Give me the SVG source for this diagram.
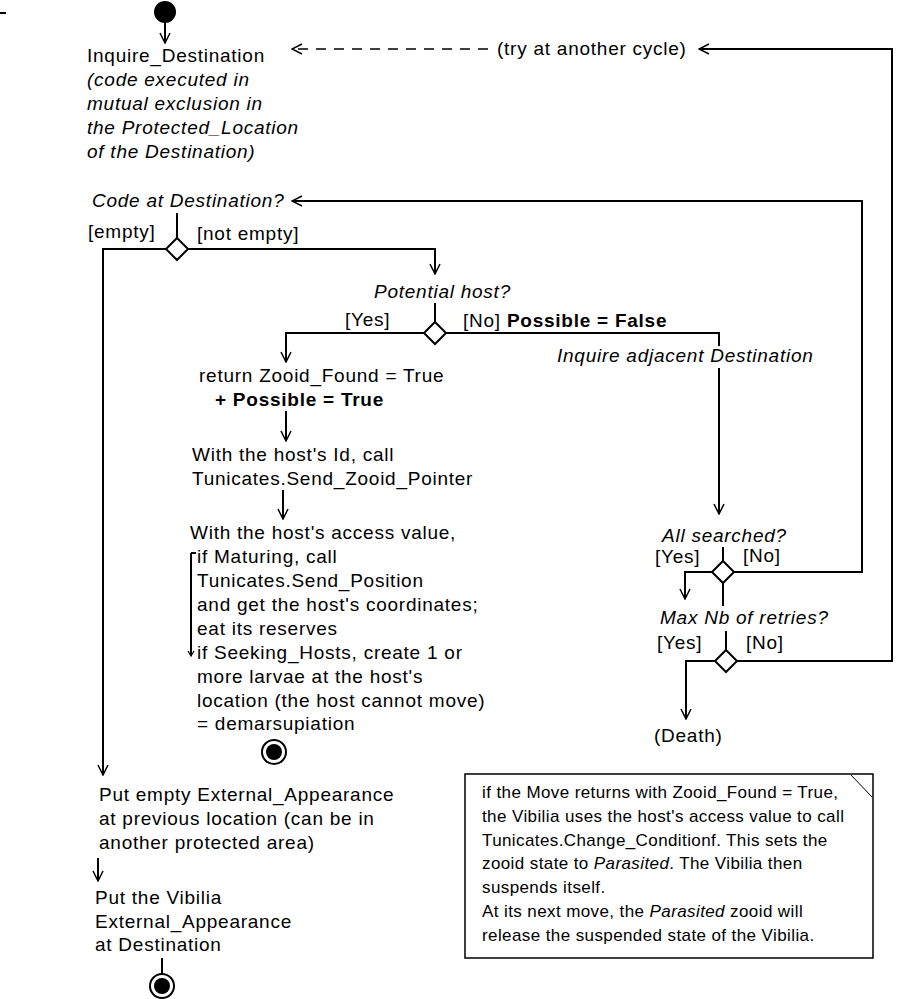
<svg xmlns="http://www.w3.org/2000/svg" width="900" height="999" viewBox="0 0 900 999">
<defs>
<marker id="arr" viewBox="-11 -6 12 12" markerWidth="12" markerHeight="12" refX="0" refY="0" orient="auto" markerUnits="userSpaceOnUse">
<path d="M-10,-5 L0,0 L-10,5" fill="none" stroke="#000" stroke-width="1.5"/>
</marker>
</defs>
<style>
text{font-family:"Liberation Sans",Arial,sans-serif;font-size:19px;letter-spacing:0.75px;fill:#000}
.i{font-style:italic}
.b{font-weight:bold}
.n{font-size:17px;letter-spacing:0.4px}
.ln{fill:none;stroke:#000;stroke-width:2}
.ar{fill:none;stroke:#000;stroke-width:2;marker-end:url(#arr)}
.dash{fill:none;stroke:#000;stroke-width:1.5;stroke-dasharray:10,8;marker-end:url(#arr)}
.dia{fill:#fff;stroke:#000;stroke-width:2}
</style>
<rect width="900" height="999" fill="#fff"/>
<line x1="0" y1="13" x2="6" y2="13" stroke="#000" stroke-width="2"/>

<g id="connectors">
<line class="ar" x1="165" y1="22" x2="165" y2="43"/>
<line class="dash" x1="488" y1="49" x2="292" y2="49"/>
<polyline class="ar" points="737,661 892,661 892,49 699,49"/>
<polyline class="ar" points="734,572 862,572 862,201 292,201"/>
<line class="ln" x1="177" y1="213" x2="177" y2="238"/>
<polyline class="ar" points="166,249 103,249 103,775"/>
<polyline class="ar" points="188,249 435,249 435,274"/>
<line class="ln" x1="435" y1="303" x2="435" y2="322"/>
<polyline class="ar" points="424,333 286,333 286,362"/>
<polyline class="ln" points="446,333 719,333 719,346"/>
<line class="ar" x1="719" y1="368" x2="719" y2="514"/>
<line class="ar" x1="286" y1="411" x2="286" y2="441"/>
<line class="ar" x1="283" y1="490" x2="283" y2="519"/>
<line class="ln" x1="723" y1="547" x2="723" y2="561"/>
<polyline class="ar" points="712,572 685,572 685,599"/>
<line class="ln" x1="723" y1="583" x2="723" y2="606"/>
<line class="ln" x1="726" y1="631" x2="726" y2="650"/>
<polyline class="ar" points="715,661 686,661 686,719"/>
<line class="ar" x1="98" y1="858" x2="98" y2="881"/>
<line class="ln" x1="162" y1="958" x2="162" y2="974"/>
<line class="ln" x1="191" y1="553" x2="191" y2="655" stroke-width="1.5"/>
<line class="ln" x1="191" y1="553" x2="196" y2="553" stroke-width="1.5"/>
<path d="M188,651 L191,656 L194,651" fill="none" stroke="#000" stroke-width="1.2"/>
</g>

<g id="start"><circle cx="165" cy="12" r="11" fill="#000"/></g>

<g id="inquire">
<text x="87" y="62">Inquire_Destination</text>
<text x="87" y="86" class="i">(code executed in</text>
<text x="87" y="110" class="i">mutual exclusion in</text>
<text x="87" y="134" class="i">the Protected_Location</text>
<text x="87" y="158" class="i">of the Destination)</text>
</g>

<g id="retry"><text x="497" y="55">(try at another cycle)</text></g>

<g id="dec-code">
<text x="92" y="207" class="i">Code at Destination?</text>
<polygon class="dia" points="177,238 188,249 177,260 166,249"/>
<text x="88" y="238">[empty]</text>
<text x="197" y="240">[not empty]</text>
</g>

<g id="dec-host">
<text x="374" y="298" class="i">Potential host?</text>
<polygon class="dia" points="435,322 446,333 435,344 424,333"/>
<text x="345" y="326">[Yes]</text>
<text x="463" y="327">[No] <tspan class="b">Possible = False</tspan></text>
</g>

<g id="adjacent"><text x="557" y="362" class="i">Inquire adjacent Destination</text></g>

<g id="return">
<text x="199" y="382">return Zooid_Found = True</text>
<text x="215" y="406" class="b">+  Possible = True</text>
</g>

<g id="send-pointer">
<text x="192" y="461">With the host's Id, call</text>
<text x="192" y="485">Tunicates.Send_Zooid_Pointer</text>
</g>

<g id="access">
<text x="190" y="539">With the host's access value,</text>
<text x="197" y="563">if Maturing, call</text>
<text x="197" y="587">Tunicates.Send_Position</text>
<text x="197" y="611">and get the host's coordinates;</text>
<text x="197" y="635">eat its reserves</text>
<text x="197" y="659">if Seeking_Hosts, create 1 or</text>
<text x="197" y="683">more larvae at the host's</text>
<text x="197" y="707">location (the host cannot move)</text>
<text x="197" y="730">= demarsupiation</text>
</g>

<g id="end1"><circle cx="274" cy="752" r="12" fill="#fff" stroke="#000" stroke-width="2"/><circle cx="274" cy="752" r="8" fill="#000"/></g>

<g id="dec-all">
<text x="662" y="542" class="i">All searched?</text>
<polygon class="dia" points="723,561 734,572 723,583 712,572"/>
<text x="655" y="563">[Yes]</text>
<text x="743" y="562">[No]</text>
</g>

<g id="dec-max">
<text x="660" y="624" class="i">Max Nb of retries?</text>
<polygon class="dia" points="726,650 737,661 726,672 715,661"/>
<text x="657" y="649">[Yes]</text>
<text x="746" y="649">[No]</text>
</g>

<g id="death"><text x="654" y="742">(Death)</text></g>

<g id="put-empty">
<text x="99" y="801">Put empty External_Appearance</text>
<text x="99" y="825">at previous location (can be in</text>
<text x="99" y="849">another protected area)</text>
</g>

<g id="put-vibilia">
<text x="95" y="904">Put the Vibilia</text>
<text x="95" y="928">External_Appearance</text>
<text x="95" y="951">at Destination</text>
</g>

<g id="end2"><circle cx="162" cy="986" r="12" fill="#fff" stroke="#000" stroke-width="2"/><circle cx="162" cy="986" r="8" fill="#000"/></g>

<g id="note">
<rect x="465" y="774" width="408" height="184" fill="#fff" stroke="#000" stroke-width="1.5"/>
<line x1="851" y1="775" x2="872" y2="797" stroke="#000" stroke-width="1"/>
<text class="n" x="482" y="798">if the Move returns with Zooid_Found = True,</text>
<text class="n" x="482" y="822">the Vibilia uses the host's access value to call</text>
<text class="n" x="482" y="846">Tunicates.Change_Conditionf. This sets the</text>
<text class="n" x="482" y="869">zooid state to <tspan class="i">Parasited</tspan>. The Vibilia then</text>
<text class="n" x="482" y="893">suspends itself.</text>
<text class="n" x="482" y="917">At its next move, the <tspan class="i">Parasited</tspan> zooid will</text>
<text class="n" x="482" y="941">release the suspended state of the Vibilia.</text>
</g>
</svg>
